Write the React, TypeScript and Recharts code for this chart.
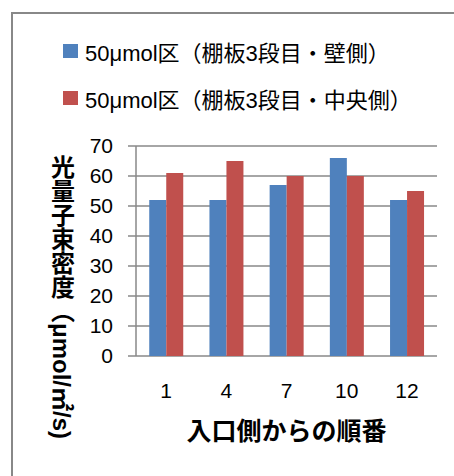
import React from 'react';
import { BarChart, Bar, XAxis, YAxis, CartesianGrid, Legend, Label } from 'recharts';

// Order from the entrance, photon flux density per shelf position
const positions = ['1', '4', '7', '10', '12'];
const wallSide = [52, 52, 57, 66, 52];
const centerSide = [61, 65, 60, 60, 55];
const yTicks = [0, 10, 20, 30, 40, 50, 60, 70];
const edgeTicks = [0, 1, 2, 3, 4, 5];

const wallName = '50μmol区（棚板3段目・壁側）';
const centerName = '50μmol区（棚板3段目・中央側）';
const seriesOrder = ['wall', 'center'];
const xTitle = '入口側からの順番';
const yTitleCjk = '光量子束密度（';
const yTitleUnit = 'μmol/㎡/s)';

const data = positions.map((pos, i) => ({
  pos,
  wall: wallSide[i],
  center: centerSide[i],
}));

const FONT = '"Liberation Sans", "Noto Sans CJK JP", sans-serif';
const GRID = '#888888';

const renderLegend = (props: any) => {
  const items = [...(props.payload || [])].sort(
    (a: any, b: any) => seriesOrder.indexOf(a.dataKey) - seriesOrder.indexOf(b.dataKey)
  );
  return (
    <div style={{ fontFamily: FONT }}>
      {items.map((entry: any) => (
        <div key={entry.value} style={{ display: 'flex', alignItems: 'center', height: 47 }}>
          <span style={{ width: 15, height: 14, background: entry.color, marginRight: 7, flexShrink: 0 }} />
          <span style={{ fontSize: 22, color: '#000', whiteSpace: 'nowrap' }}>{entry.value}</span>
        </div>
      ))}
    </div>
  );
};

const YTitle = (props: any) => {
  const { viewBox } = props;
  const x = viewBox.x + 61;
  const y = viewBox.y + 9;
  return (
    <text
      x={x}
      y={y}
      fontFamily={FONT}
      fontSize={24}
      fontWeight="bold"
      fill="#000"
      style={{ writingMode: 'vertical-rl' } as any}
    >
      {yTitleCjk}
      <tspan style={{ textOrientation: 'sideways' } as any}>{yTitleUnit}</tspan>
    </text>
  );
};

const App = () => {
  return (
    <div style={{ position: 'absolute', left: 0, top: 0, width: 454, height: 476, overflow: 'hidden', background: '#fff' }}>
      <div
        style={{
          position: 'absolute',
          left: 11,
          top: 12,
          width: 500,
          height: 500,
          border: `2px solid ${GRID}`,
        }}
      />
      <BarChart
        width={454}
        height={476}
        data={data}
        margin={{ top: 146, right: 17, bottom: 80, left: 0 }}
        barGap={0}
        barCategoryGap="22%"
      >
        <CartesianGrid vertical={false} stroke={GRID} strokeWidth={1.5} />
        {/* boundary ticks between categories */}
        <XAxis
          xAxisId="edges"
          type="number"
          domain={[0, 5]}
          ticks={edgeTicks}
          allowDataOverflow
          height={0}
          tick={false}
          tickSize={7}
          axisLine={{ stroke: GRID, strokeWidth: 1.5 }}
          tickLine={{ stroke: GRID, strokeWidth: 1.5 }}
        />
        <XAxis
          dataKey="pos"
          height={40}
          axisLine={false}
          tickLine={false}
          tickSize={0}
          tickMargin={27}
          tick={{ fontSize: 21, fill: '#000', fontFamily: FONT }}
        >
          <Label
            value={xTitle}
            position="bottom"
            offset={26}
            style={{ fontSize: 25, fontWeight: 'bold', fill: '#000', fontFamily: FONT }}
          />
        </XAxis>
        <YAxis
          width={136}
          domain={[0, 70]}
          ticks={yTicks}
          interval={0}
          tickSize={8}
          tickMargin={15}
          axisLine={{ stroke: GRID, strokeWidth: 1.5 }}
          tickLine={{ stroke: GRID, strokeWidth: 1.5 }}
          tick={{ fontSize: 21, fill: '#000', fontFamily: FONT }}
          label={<YTitle />}
        />
        <Legend
          layout="vertical"
          align="center"
          verticalAlign="middle"
          content={renderLegend}
          wrapperStyle={{ top: 27, left: 63, width: 390 }}
        />
        <Bar dataKey="wall" name={wallName} fill="#4F81BD" isAnimationActive={false} />
        <Bar dataKey="center" name={centerName} fill="#C0504D" isAnimationActive={false} />
      </BarChart>
    </div>
  );
};

export default App;
